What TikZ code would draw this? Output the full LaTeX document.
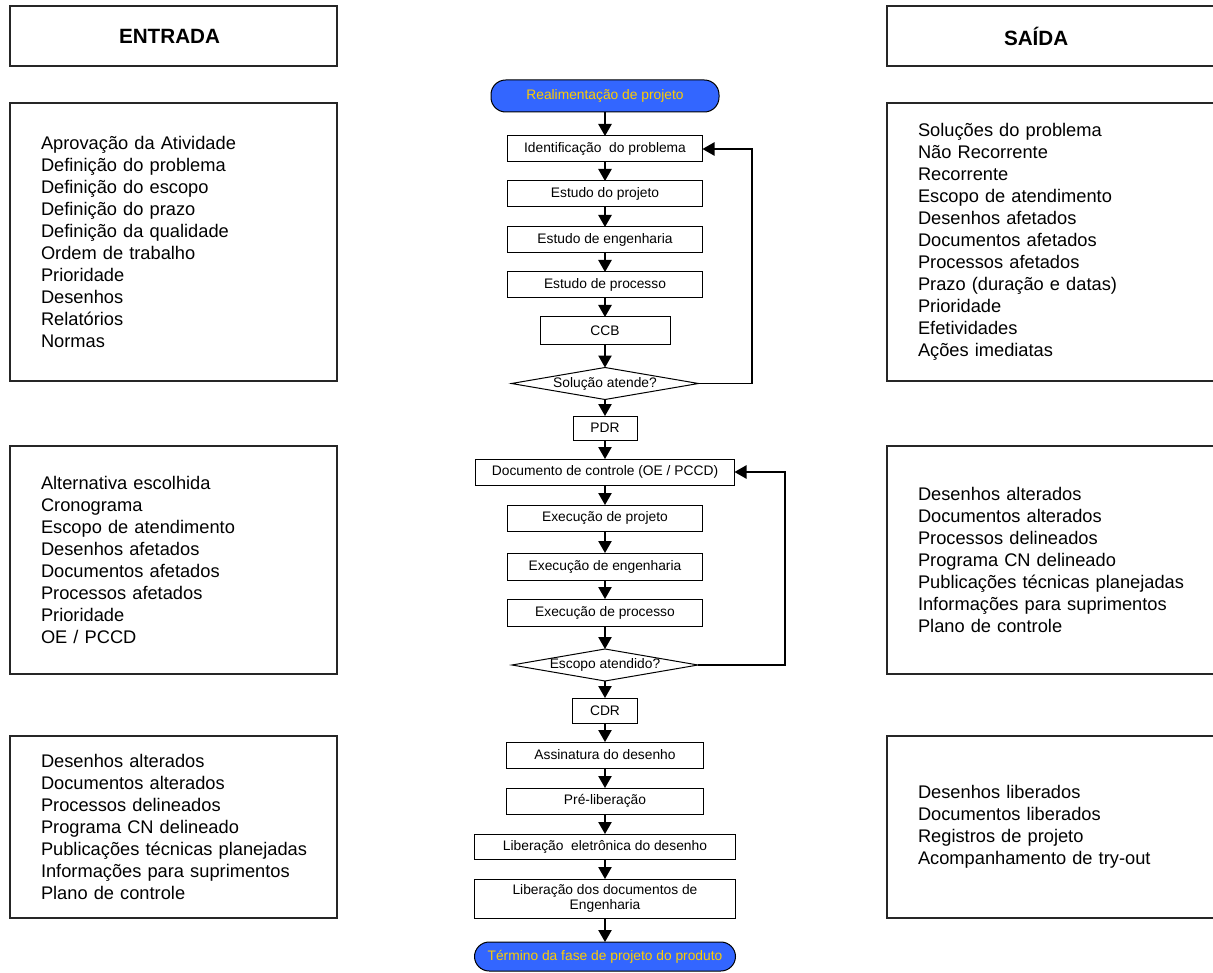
\documentclass[tikz,border=0pt]{standalone}
\usepackage{fontspec}
\setmainfont{Liberation Sans}
\usetikzlibrary{shapes.geometric,arrows.meta}
\definecolor{termblue}{RGB}{51,102,255}
\definecolor{termtext}{RGB}{255,204,0}

\begin{document}
\begin{tikzpicture}[x=0.75pt,y=-0.75pt,
  every node/.style={inner sep=0pt, outer sep=0pt},
  flowfont/.style={font=\fontsize{10.35pt}{11.25pt}\selectfont},
  stepbox/.style 2 args={draw, line width=0.75pt, flowfont, align=center,
    minimum width=#1*0.75pt, minimum height=#2*0.75pt},
  termbox/.style 2 args={stepbox={#1}{#2}, fill=termblue, text=termtext,
    rounded corners=11pt},
  decision/.style 2 args={draw, line width=0.75pt, flowfont, diamond,
    aspect=5.8, minimum width=#1*0.75pt, minimum height=#2*0.75pt},
  sidebox/.style={draw=black!85, line width=1.1pt, align=left,
    font=\fontsize{13.7pt}{16.5pt}\selectfont, inner xsep=23.25pt},
  headbox/.style={draw=black!85, line width=1.1pt, align=left,
    font=\fontsize{15.5pt}{18pt}\selectfont\bfseries, minimum height=45pt,
    text width=81.75pt},
  arr/.style={line width=1pt, -{Triangle[length=9pt,width=10pt]}}
]
\clip (0,0) rectangle (1213,973);

% input / output headers
\node[headbox, inner xsep=81.75pt] (hin) at (173.5,36) {ENTRADA};
\node[headbox, inner xsep=87.75pt] (hout) at (1058.5,36) {SAÍDA};

% input column
\node[sidebox, text width=198.75pt, minimum height=208.5pt] (in1) at (173.5,242) {%
Aprovação da Atividade\\
Definição do problema\\
Definição do escopo\\
Definição do prazo\\
Definição da qualidade\\
Ordem de trabalho\\
Prioridade\\
Desenhos\\
Relatórios\\
Normas};
\node[sidebox, text width=198.75pt, minimum height=171pt] (in2) at (173.5,560) {%
Alternativa escolhida\\
Cronograma\\
Escopo de atendimento\\
Desenhos afetados\\
Documentos afetados\\
Processos afetados\\
Prioridade\\
OE / PCCD};
\node[sidebox, text width=198.75pt, minimum height=136.5pt] (in3) at (173.5,827) {%
Desenhos alterados\\
Documentos alterados\\
Processos delineados\\
Programa CN delineado\\
\mbox{Publicações técnicas planejadas}\\
Informações para suprimentos\\
Plano de controle};

% output column
\node[sidebox, text width=210.75pt, minimum height=208.5pt] (out1) at (1058.5,242) {%
Soluções do problema\\
Não Recorrente\\
Recorrente\\
Escopo de atendimento\\
Desenhos afetados\\
Documentos afetados\\
Processos afetados\\
Prazo (duração e datas)\\
Prioridade\\
Efetividades\\
Ações imediatas};
\node[sidebox, text width=210.75pt, minimum height=171pt] (out2) at (1058.5,560) {%
Desenhos alterados\\
Documentos alterados\\
Processos delineados\\
Programa CN delineado\\
\mbox{Publicações técnicas planejadas}\\
Informações para suprimentos\\
Plano de controle};
\node[sidebox, text width=210.75pt, minimum height=136.5pt] (out3) at (1058.5,827) {%
Desenhos liberados\\
Documentos liberados\\
Registros de projeto\\
Acompanhamento de try-out};

% process flow
\node[termbox={228}{32}] (t1) at (605,96) {Realimentação de projeto};
\node[stepbox={195}{26}] (ident) at (605,149) {Identificação\ \ do problema};
\node[stepbox={195}{26}] (est1) at (605,194) {Estudo do projeto};
\node[stepbox={195}{26}] (est2) at (605,240) {Estudo de engenharia};
\node[stepbox={195}{26}] (est3) at (605,285) {Estudo de processo};
\node[stepbox={130}{28}] (ccb) at (605,331) {CCB};
\node[decision={187}{32}] (d1) at (605,383.5) {Solução atende?};
\node[stepbox={64}{24}] (pdr) at (605,428) {PDR};
\node[stepbox={259}{26}] (doc) at (605,472) {Documento de controle (OE / PCCD)};
\node[stepbox={195}{26}] (ex1) at (605,518) {Execução de projeto};
\node[stepbox={195}{27}] (ex2) at (605,566.5) {Execução de engenharia};
\node[stepbox={195}{27}] (ex3) at (605,612.5) {Execução de processo};
\node[decision={186}{32}] (d2) at (605,665) {Escopo atendido?};
\node[stepbox={65}{25}] (cdr) at (605,710.5) {CDR};
\node[stepbox={197}{26}] (ass) at (605,755) {Assinatura do desenho};
\node[stepbox={197}{26}] (pre) at (605,801) {Pré-liberação};
\node[stepbox={261}{25}] (libe) at (605,846.5) {Liberação\ \ eletrônica do desenho};
\node[stepbox={261}{39}] (libd) at (605,898.5) {Liberação dos documentos de\\Engenharia};
\node[termbox={261}{29}] (t2) at (605,956.5) {Término da fase de projeto do produto};

\foreach \a/\b in {t1/ident, ident/est1, est1/est2, est2/est3, est3/ccb,
  ccb/d1, d1/pdr, pdr/doc, doc/ex1, ex1/ex2, ex2/ex3, ex3/d2, d2/cdr,
  cdr/ass, ass/pre, pre/libe, libe/libd, libd/t2}
  \draw[arr] (\a) -- (\b);

% feedback loops
\coordinate (lp1) at (752,0);
\coordinate (lp2) at (785,0);
\draw[arr] (d1.east) -- (d1.east -| lp1) |- (ident.east);
\draw[arr] (d2.east) -- (d2.east -| lp2) |- (doc.east);
\end{tikzpicture}
\end{document}
